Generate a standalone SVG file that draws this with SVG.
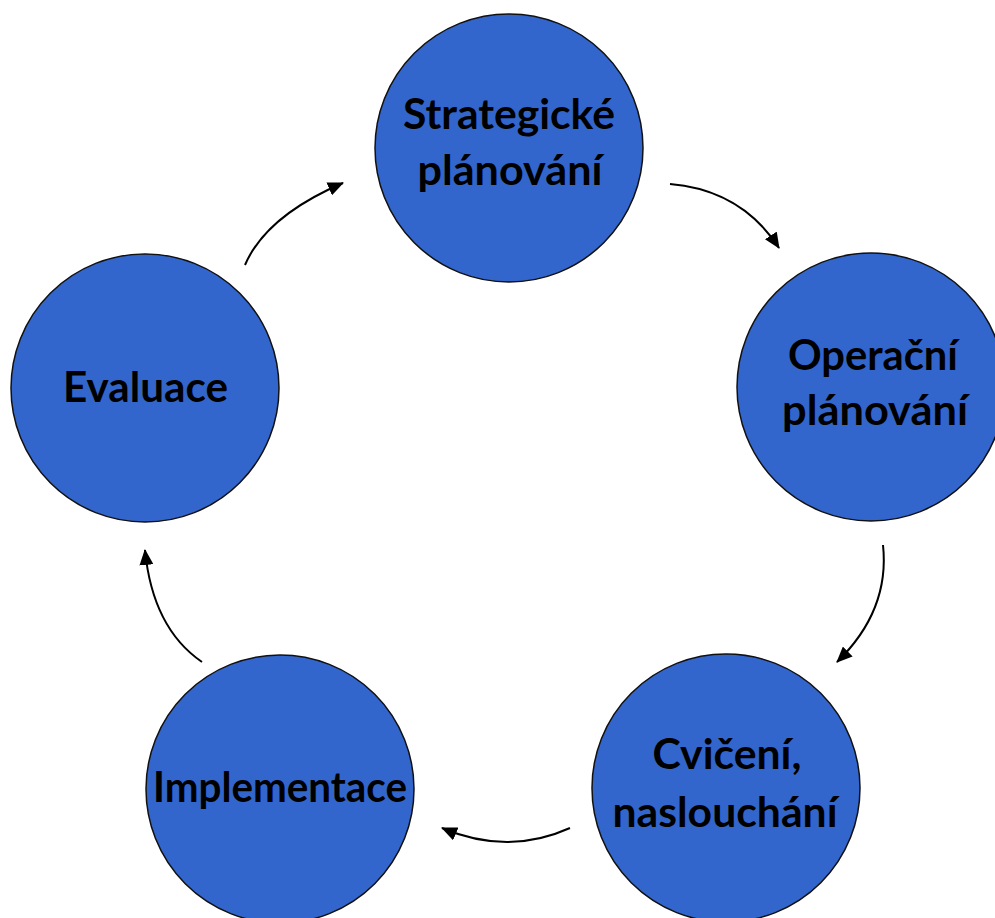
<svg xmlns="http://www.w3.org/2000/svg" width="995" height="918" viewBox="0 0 995 918">
<style>
.node circle{fill:#3366CC;stroke:#111;stroke-width:1.5}
.node text{font-family:Lato,"Open Sans","Liberation Sans",sans-serif;font-weight:700;font-size:42px;fill:#000;text-anchor:middle}
.conn path{fill:none;stroke:#000;stroke-width:2}
</style>
<defs>
<marker id="ah" viewBox="0 0 16 14" refX="15" refY="7" markerWidth="16" markerHeight="14" markerUnits="userSpaceOnUse" orient="auto">
<path d="M0,0 L16,7 L0,14 z" fill="#000"/>
</marker>
</defs>
<rect width="995" height="918" fill="#fff"/>
<g id="connectors" class="conn">
<path d="M670,184 Q741.5,190 779,248" marker-end="url(#ah)"/>
<path d="M883,545 Q890,610.5 837,662" marker-end="url(#ah)"/>
<path d="M570,828 Q508,856 442,828" marker-end="url(#ah)"/>
<path d="M202,662 Q152.5,628 145,550" marker-end="url(#ah)"/>
<path d="M245,265 Q266,216 343,183" marker-end="url(#ah)"/>
</g>
<g id="n-strategicke" class="node">
<circle cx="509" cy="148" r="134"/>
<text x="509" y="129" textLength="212" lengthAdjust="spacingAndGlyphs">Strategické</text>
<text x="510" y="185" textLength="185" lengthAdjust="spacingAndGlyphs">plánování</text>
</g>
<g id="n-operacni" class="node">
<circle cx="871" cy="387" r="134"/>
<text x="873" y="370" textLength="170" lengthAdjust="spacingAndGlyphs">Operační</text>
<text x="875" y="425" textLength="186" lengthAdjust="spacingAndGlyphs">plánování</text>
</g>
<g id="n-cviceni" class="node">
<circle cx="726" cy="788" r="134"/>
<text x="727" y="769" textLength="149" lengthAdjust="spacingAndGlyphs">Cvičení,</text>
<text x="725" y="827" textLength="225" lengthAdjust="spacingAndGlyphs">naslouchání</text>
</g>
<g id="n-implementace" class="node">
<circle cx="280" cy="789" r="134"/>
<text x="280" y="802" textLength="254" lengthAdjust="spacingAndGlyphs">Implementace</text>
</g>
<g id="n-evaluace" class="node">
<circle cx="145" cy="388" r="134"/>
<text x="145.5" y="402" textLength="165" lengthAdjust="spacingAndGlyphs">Evaluace</text>
</g>
</svg>
